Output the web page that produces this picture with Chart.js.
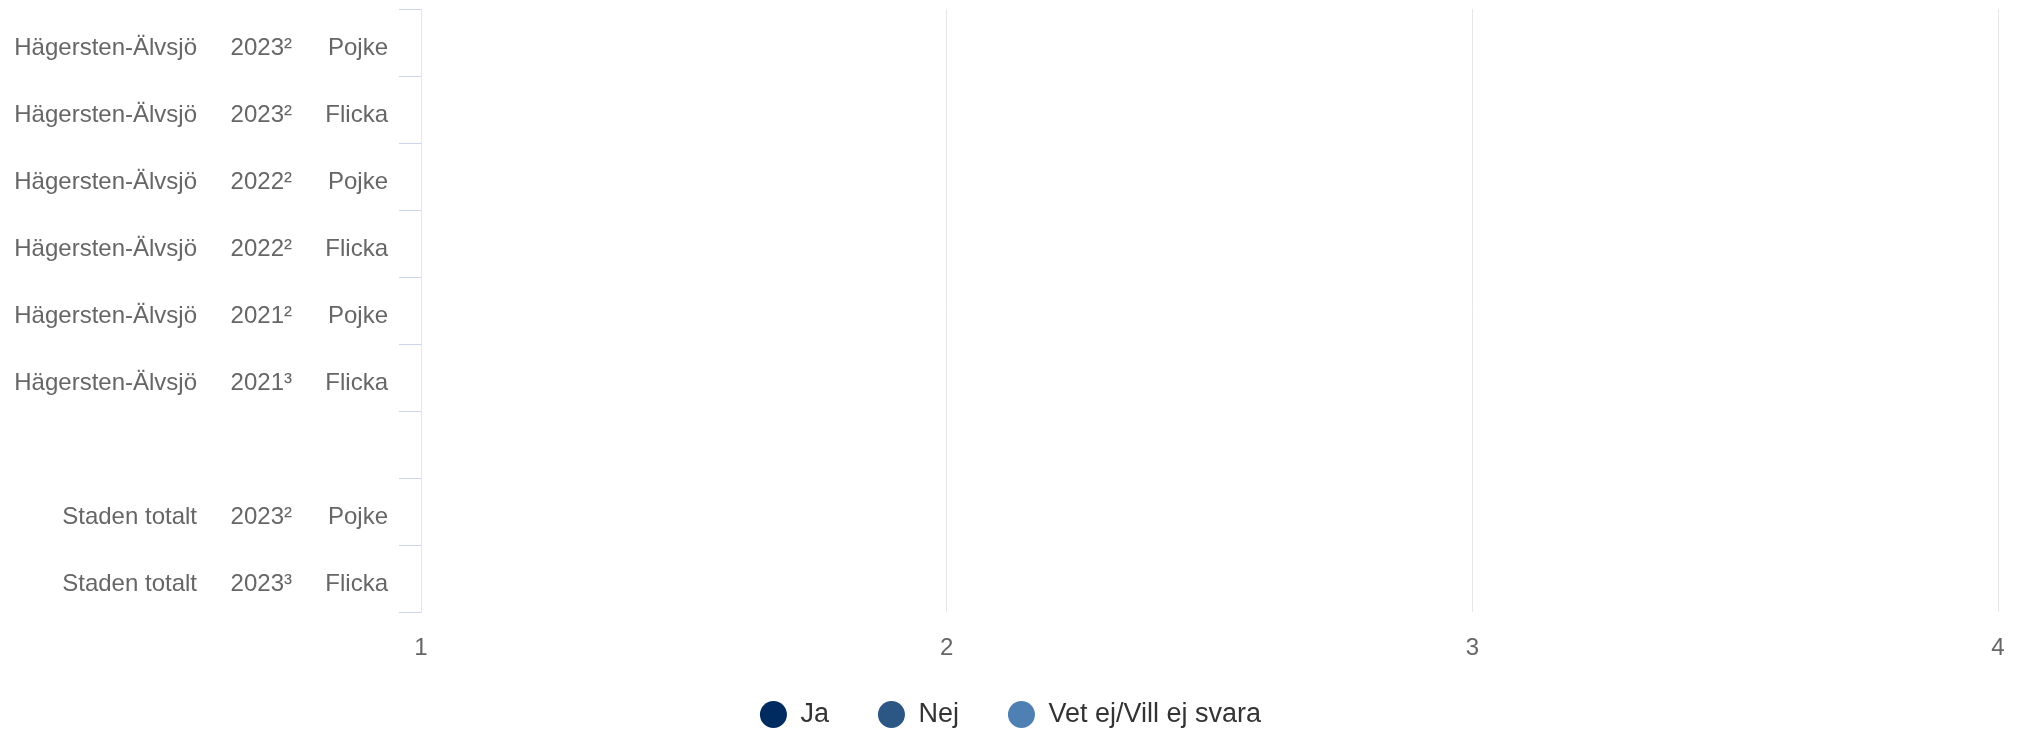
<!DOCTYPE html>
<html>
<head>
<meta charset="utf-8">
<script src="https://cdn.jsdelivr.net/npm/chart.js@4"></script>
<style>
    html, body { margin: 0; background: #fff; overflow: hidden; }
    #wrap { width: 2017px; height: 731px; position: relative; }
</style>
</head>
<body>
<div id="wrap"><canvas id="chart"></canvas></div>
<script>
// rows (the empty one is a spacer between the district and the city total)
const regions = ['Hägersten-Älvsjö', 'Hägersten-Älvsjö', 'Hägersten-Älvsjö', 'Hägersten-Älvsjö', 'Hägersten-Älvsjö', 'Hägersten-Älvsjö', '', 'Staden totalt', 'Staden totalt'];
const years = ['2023²', '2023²', '2022²', '2022²', '2021²', '2021³', '', '2023²', '2023³'];
const genders = ['Pojke', 'Flicka', 'Pojke', 'Flicka', 'Pojke', 'Flicka', '', 'Pojke', 'Flicka'];

// series - nothing is drawn in the picture
const seriesNames = ['Ja', 'Nej', 'Vet ej/Vill ej svara'];
const ja = [null, null, null, null, null, null, null, null, null];
const nej = [null, null, null, null, null, null, null, null, null];
const vetEj = [null, null, null, null, null, null, null, null, null];

const xTicks = [1, 2, 3, 4];

const font = '"Liberation Sans", Arial, sans-serif';
const colors = ['#002b61', '#2c5684', '#4f80b3'];

const labels = regions.map(function (r, i) {
    return (r + ' ' + years[i] + ' ' + genders[i]).trim();
});

// three text columns left of the axis
const columnLabels = {
    id: 'columnLabels',
    afterDraw(chart) {
        const {ctx} = chart;
        const y = chart.scales.y;
        ctx.save();
        ctx.font = '24px ' + font;
        ctx.fillStyle = '#666666';
        ctx.textAlign = 'right';
        ctx.textBaseline = 'middle';
        regions.forEach(function (r, i) {
            const py = y.getPixelForValue(i) + 6;
            ctx.fillText(r, 197, py);
            ctx.fillText(years[i], 292, py);
            ctx.fillText(genders[i], 388, py);
        });
        ctx.restore();
    }
};

new Chart(document.getElementById('chart'), {
    type: 'bar',
    data: {
        labels: labels,
        datasets: [ja, nej, vetEj].map(function (d, i) {
            return {
                label: seriesNames[i],
                data: d,
                backgroundColor: colors[i],
                borderWidth: 0
            };
        })
    },
    options: {
        indexAxis: 'y',
        responsive: true,
        maintainAspectRatio: false,
        animation: false,
        layout: {
            padding: {top: 9, right: 19, left: 23, bottom: 0}
        },
        plugins: {
            legend: {
                position: 'bottom',
                maxHeight: 79,
                labels: {
                    useBorderRadius: true,
                    borderRadius: 13.5,
                    boxWidth: 27,
                    boxHeight: 27,
                    padding: 49,
                    color: '#333333',
                    font: {family: font, size: 27}
                }
            },
            tooltip: {enabled: false}
        },
        scales: {
            x: {
                type: 'linear',
                min: xTicks[0],
                max: xTicks[xTicks.length - 1],
                stacked: true,
                afterBuildTicks: function (scale) {
                    scale.ticks = xTicks.map(function (v) { return {value: v}; });
                },
                afterFit: function (scale) {
                    scale.height = 40;
                },
                ticks: {
                    color: '#666666',
                    // mirrored labels pushed back below the axis (no label clipping)
                    mirror: true,
                    padding: -51,
                    font: {family: font, size: 24}
                },
                grid: {color: '#e6e6e6', drawTicks: false},
                border: {display: false}
            },
            y: {
                stacked: true,
                ticks: {display: false},
                grid: {
                    offset: true,
                    drawOnChartArea: false,
                    tickLength: 22,
                    tickColor: '#ccd6eb',
                    color: '#ccd6eb'
                },
                border: {display: true, color: '#e6e6e6'},
                afterFit: function (scale) {
                    scale.width = 398;
                }
            }
        }
    },
    plugins: [columnLabels]
});
</script>
</body>
</html>
